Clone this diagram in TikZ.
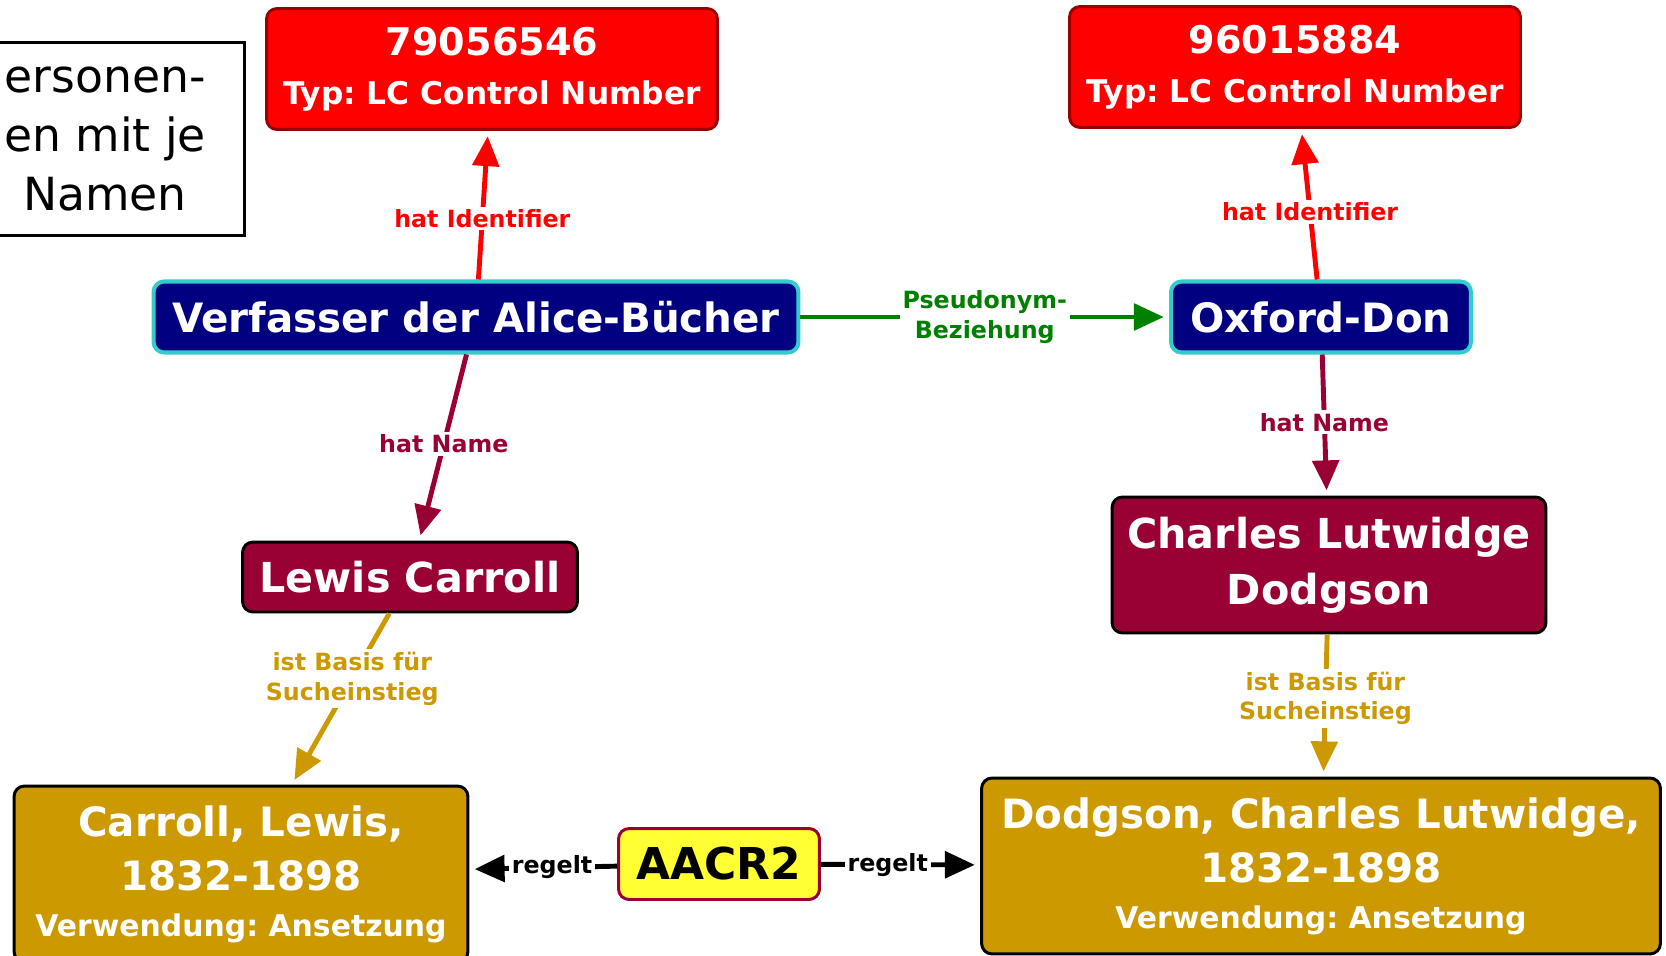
\documentclass[tikz,border=0pt]{standalone}
\usepackage{fontspec}
\setmainfont{DejaVu Sans}
\usepackage{xcolor}
\usetikzlibrary{arrows.meta}
\frenchspacing

\definecolor{idred}{HTML}{FF0000}
\definecolor{idborder}{HTML}{990000}
\definecolor{navy}{HTML}{000080}
\definecolor{turq}{HTML}{33CCCC}
\definecolor{wine}{HTML}{990033}
\definecolor{gold}{HTML}{CC9900}
\definecolor{lemon}{HTML}{FFFF33}
\definecolor{leaf}{HTML}{008000}

\tikzset{
  box/.style={draw, rounded corners=6pt, line width=1.7pt, text=white,
    align=center, inner sep=0pt},
  idbox/.style={box, fill=idred, draw=idborder, font=\bfseries\fontsize{17.8}{28}\selectfont,
    minimum width=9.02cm, minimum height=2.42cm},
  person/.style={box, fill=navy, draw=turq, line width=2.3pt,
    font=\bfseries\fontsize{23}{28}\selectfont, minimum height=1.42cm},
  namebox/.style={box, fill=wine, draw=black, font=\bfseries\fontsize{23.5}{32}\selectfont},
  heading/.style={box, fill=gold, draw=black, font=\bfseries\fontsize{23}{31}\selectfont,
    minimum height=3.52cm},
  rulebox/.style={box, fill=lemon, draw=wine, text=black,
    font=\bfseries\fontsize{25}{28}\selectfont},
  legend/.style={draw, line width=1.7pt, fill=white, align=center, inner sep=0pt,
    font=\fontsize{26}{33.5}\selectfont},
  rel/.style={line width=2.8pt, -{Triangle[length=17pt,width=15pt]}, shorten >=3pt},
  rellabel/.style={fill=white, inner sep=1.5pt, align=center,
    font=\bfseries\fontsize{13.5}{17}\selectfont},
}

\begin{document}
\begin{tikzpicture}[x=0.02cm, y=-0.02cm]
\useasboundingbox (0,0) rectangle (1666,956);

% Text links
\node [legend, minimum width=5.6cm, minimum height=3.88cm]
       (note) at (105,139) {ersonen-\\en mit je\\Namen};

% Identifier
\node [idbox] (lcn1) at (492,69)
       {{\fontsize{21.7}{28}\selectfont 79056546}\\Typ: LC Control Number};
\node [idbox] (lcn2) at (1295,67)
       {{\fontsize{21.7}{28}\selectfont 96015884}\\Typ: LC Control Number};

% Personenidentitaeten
\node [person, minimum width=12.9cm] (alice) at (476,317) {Verfasser der Alice-Bücher};
\node [person, minimum width=6.0cm] (don) at (1321,317) {Oxford-Don};

% Namen
\node [namebox, minimum width=6.7cm, minimum height=1.4cm]
       (carroll) at (410,577) {Lewis Carroll};
\node [namebox, minimum width=8.68cm, minimum height=2.72cm]
       (dodgson) at (1329,565) {Charles Lutwidge\\Dodgson};

% Ansetzungen
\node [heading, minimum width=9.08cm] (carrollhead) at (241,874)
       {Carroll, Lewis,\\1832-1898\\[-5pt]{\fontsize{17}{26}\selectfont Verwendung: Ansetzung}};
\node [heading, minimum width=13.58cm] (dodgsonhead) at (1321,866)
       {Dodgson, Charles Lutwidge,\\1832-1898\\[-5pt]{\fontsize{17}{26}\selectfont Verwendung: Ansetzung}};

\node [rulebox, minimum width=4.02cm, minimum height=1.42cm] (aacr) at (719,864) {AACR2};

% Beziehungen
\draw [rel, color=idred] (alice) -- node [rellabel, pos=.41] {hat Identifier} (lcn1);
\draw [rel, color=idred] (don) -- node [rellabel, pos=.45] {hat Identifier} (lcn2);
\draw [rel, color=leaf] (alice) -- node [rellabel, pos=.5] {Pseudonym-\\Beziehung} (don);
\draw [rel, color=wine] (alice) -- node [rellabel, pos=.48] {hat Name} (carroll);
\draw [rel, color=wine] (don) -- node [rellabel, pos=.48] {hat Name} (dodgson);
\draw [rel, color=gold] (carroll) -- node [rellabel, pos=.38] {ist Basis für\\Sucheinstieg} (carrollhead);
\draw [rel, color=gold] (dodgson) -- node [rellabel, pos=.45] {ist Basis für\\Sucheinstieg} (dodgsonhead);
\draw [rel, color=black] (aacr) -- node [rellabel, pos=.44] {regelt} (carrollhead);
\draw [rel, color=black] (aacr) -- node [rellabel, pos=.42] {regelt} (dodgsonhead);
\end{tikzpicture}
\end{document}
